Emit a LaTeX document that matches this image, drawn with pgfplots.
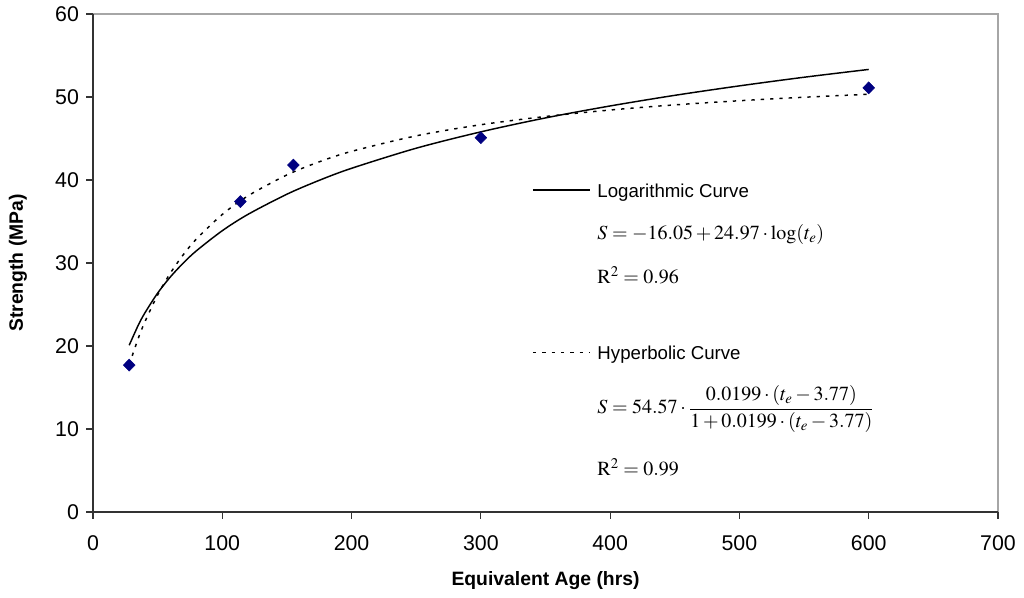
\documentclass[border=0pt]{standalone}
\usepackage{mathptmx}
\usepackage[no-math]{fontspec}
\setmainfont{Liberation Sans}
\usepackage{pgfplots}
\pgfplotsset{compat=1.18}
\definecolor{navyblue}{RGB}{0,0,128}
\begin{document}
\begin{tikzpicture}
\begin{axis}[
  scale only axis,
  width=678.75pt, height=373.5pt,
  xmin=0, xmax=700, ymin=0, ymax=60,
  xtick={0,100,...,700}, ytick={0,10,...,60},
  tick align=outside, tick pos=left,
  major tick length=5pt,
  axis line style={draw=none},
  tick style={black!80, line width=0.8pt},
  tick label style={font=\fontsize{16}{18}\selectfont},
  xticklabel style={yshift=-9pt},
  yticklabel style={xshift=-2pt},
  /pgf/number format/assume math mode=true,
  xlabel={\bfseries Equivalent Age (hrs)},
  ylabel={\bfseries Strength (MPa)},
  label style={font=\fontsize{14.5}{16}\selectfont},
  xlabel style={at={(axis description cs:0.5,-0.137)}, anchor=center},
  ylabel style={at={(axis description cs:-0.083,0.5)}, anchor=center},
  clip=false,
]
\draw[gray!70, line width=0.8pt] (axis cs:0,60) -- (axis cs:700,60) -- (axis cs:700,0);
\draw[black!80, line width=1pt] (axis cs:0,60) -- (axis cs:0,0) -- (axis cs:700,0);
% logarithmic fit
\addplot[black, line width=1.1pt, smooth] coordinates {
(28,20.09)(35,22.50)(40,23.95)(50,26.37)(60,28.35)(70,30.02)(80,31.47)(100,33.89)(120,35.87)(150,38.29)(175,39.96)(200,41.41)(250,43.83)(300,45.80)(350,47.48)(400,48.92)(450,50.20)(500,51.34)(550,52.38)(600,53.32)};
% hyperbolic fit
\addplot[black, line width=1.1pt, dash pattern=on 2.5pt off 4.5pt, smooth] coordinates {
(28,17.75)(35,20.92)(40,22.86)(50,26.15)(60,28.82)(70,31.03)(80,32.89)(100,35.85)(120,38.10)(150,40.61)(175,42.19)(200,43.45)(250,45.32)(300,46.66)(350,47.65)(400,48.43)(450,49.05)(500,49.55)(550,49.97)(600,50.33)};
% data
\addplot[only marks, mark=diamond*, mark size=4.5pt, mark options={xscale=1.3}, color=navyblue] coordinates {
(28,17.7)(114,37.4)(155,41.8)(300,45.1)(600,51.1)};
% annotations
\draw[black, line width=1.1pt] (axis cs:340.3,38.8) -- (axis cs:384.4,38.8);
\node[anchor=west, inner sep=0pt, font=\fontsize{14}{16}\selectfont] at (axis cs:390,38.5) {Logarithmic Curve};
\node[anchor=west, inner sep=0pt, font=\fontsize{15}{17}\selectfont] at (axis cs:390,33.4) {$S=-16.05+24.97\cdot\log(t_e)$};
\node[anchor=west, inner sep=0pt, font=\fontsize{15}{17}\selectfont] at (axis cs:390,28.55) {$\mathrm{R}^2=0.96$};
\draw[black, line width=1.1pt, dash pattern=on 2.5pt off 4.5pt] (axis cs:340.3,19.2) -- (axis cs:384.4,19.2);
\node[anchor=west, inner sep=0pt, font=\fontsize{14}{16}\selectfont] at (axis cs:390,18.9) {Hyperbolic Curve};
\node[anchor=west, inner sep=0pt, font=\fontsize{15}{17}\selectfont] at (axis cs:390,12.4) {$S=54.57\cdot{\displaystyle\frac{0.0199\cdot(t_e-3.77)}{1+0.0199\cdot(t_e-3.77)}}$};
\node[anchor=west, inner sep=0pt, font=\fontsize{15}{17}\selectfont] at (axis cs:390,5.42) {$\mathrm{R}^2=0.99$};
\end{axis}
\useasboundingbox (-69.75pt,-64.5pt) rectangle (698.25pt,384pt);
\end{tikzpicture}
\end{document}
